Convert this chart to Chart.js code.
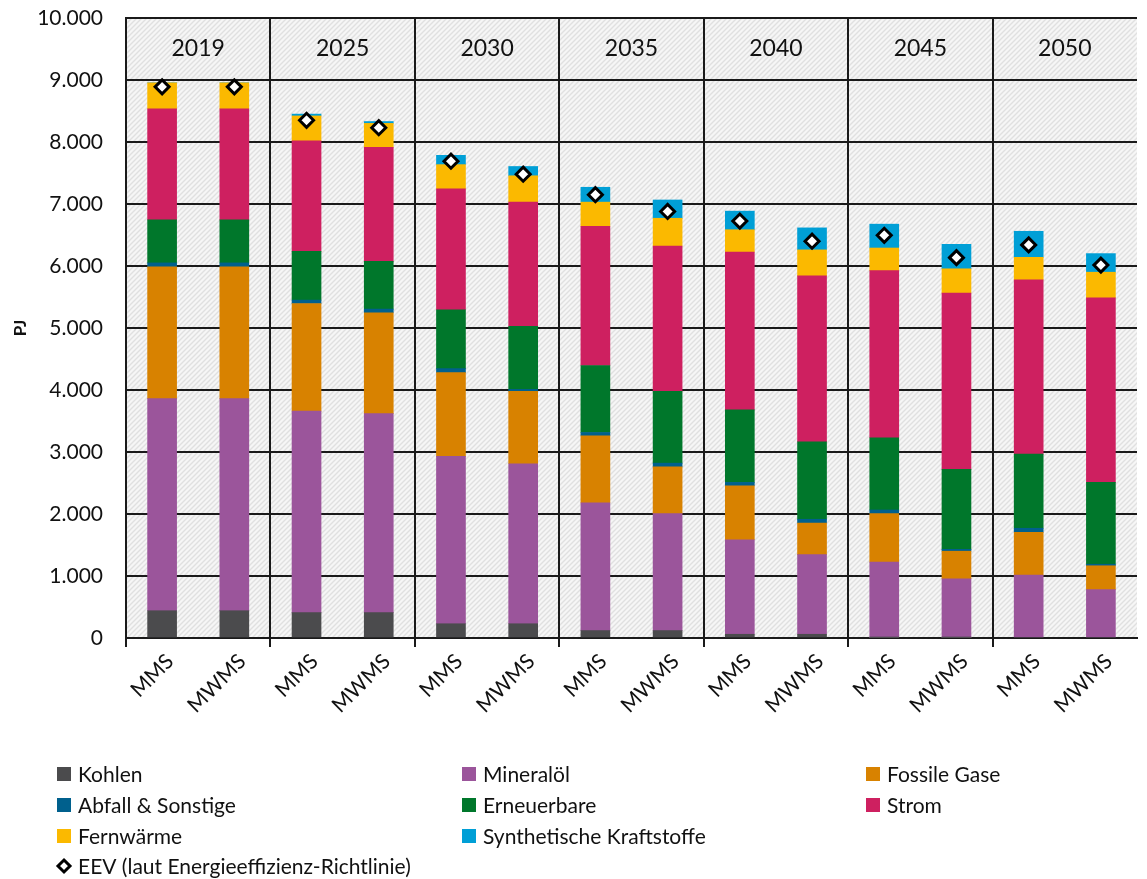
<!DOCTYPE html>
<html>
<head>
<meta charset="utf-8">
<title>Endenergieverbrauch</title>
<script src="https://cdn.jsdelivr.net/npm/chart.js@4/dist/chart.umd.min.js"></script>
<style>
  html, body { margin: 0; padding: 0; background: #fff; }
  #wrap { width: 1147px; height: 879px; position: relative; }
</style>
</head>
<body>
<div id="wrap"><canvas id="chart"></canvas></div>
<script>
var years = ["2019", "2025", "2030", "2035", "2040", "2045", "2050"];
var scenarios = ["MMS", "MWMS"];

var kohlen      = [440, 440, 410, 410, 230, 230, 120, 120, 60, 60, 5, 5, 0, 0];
var mineraloel  = [3420, 3420, 3250, 3210, 2700, 2580, 2060, 1885, 1525, 1285, 1220, 950, 1015, 780];
var fossileGase = [2125, 2125, 1735, 1625, 1350, 1170, 1080, 755, 870, 510, 780, 445, 690, 385];
var abfall      = [65, 65, 55, 60, 65, 30, 55, 60, 55, 60, 60, 30, 65, 25];
var erneuerbare = [695, 695, 785, 770, 950, 1015, 1080, 1160, 1170, 1250, 1165, 1290, 1195, 1320];
var strom       = [1790, 1790, 1785, 1840, 1950, 2005, 2245, 2340, 2545, 2675, 2695, 2845, 2810, 2975];
var fernwaerme  = [420, 420, 400, 385, 390, 425, 390, 450, 360, 420, 365, 390, 365, 415];
var synth       = [0, 0, 30, 30, 150, 150, 240, 295, 300, 355, 385, 395, 420, 300];
var eev         = [8890, 8890, 8350, 8230, 7690, 7480, 7150, 6880, 6725, 6400, 6495, 6135, 6340, 6015];

var yTicks = [0, 1000, 2000, 3000, 4000, 5000, 6000, 7000, 8000, 9000, 10000];

var FONT = 'Lato, "Open Sans", "Noto Sans", sans-serif';

var labels = [];
years.forEach(function () {
  scenarios.forEach(function (s) { labels.push(s); });
});

function bar(label, data, color) {
  return {
    type: "bar",
    label: label,
    data: data,
    backgroundColor: color,
    borderWidth: 0,
    stack: "eev-sum",
    barThickness: 29,
    order: 1
  };
}

// diagonal hatch for the plot background
function hatch() {
  var c = document.createElement("canvas");
  c.width = 5; c.height = 5;
  var x = c.getContext("2d");
  x.fillStyle = "#f6f6f6";
  x.fillRect(0, 0, 5, 5);
  x.strokeStyle = "#e0e0e0";
  x.lineWidth = 1.4;
  x.beginPath();
  x.moveTo(-1, 6); x.lineTo(6, -1);
  x.moveTo(-4, 4); x.lineTo(4, -4);
  x.moveTo(1, 9); x.lineTo(9, 1);
  x.stroke();
  return c;
}

var bgPlugin = {
  id: "hatchBg",
  beforeDraw: function (chart) {
    var a = chart.chartArea, ctx = chart.ctx;
    ctx.save();
    ctx.fillStyle = ctx.createPattern(hatch(), "repeat");
    ctx.fillRect(a.left, a.top, a.right - a.left, a.bottom - a.top);
    ctx.restore();
  }
};

var yearPlugin = {
  id: "yearHeads",
  afterDraw: function (chart) {
    var xs = chart.scales.x, ys = chart.scales.y, ctx = chart.ctx;
    ctx.save();
    ctx.font = "23px " + FONT;
    ctx.fillStyle = "#111";
    ctx.textAlign = "center";
    ctx.textBaseline = "middle";
    years.forEach(function (y, i) {
      var cx = (xs.getPixelForValue(2 * i) + xs.getPixelForValue(2 * i + 1)) / 2;
      ctx.fillText(y, cx, ys.getPixelForValue(9500));
    });
    ctx.restore();
  }
};

var legendPlugin = {
  id: "gridLegend",
  afterDraw: function (chart) {
    var ctx = chart.ctx;
    var colX = [57, 462, 866];
    var rowY = [774, 805, 836, 866];
    ctx.save();
    ctx.font = "21px " + FONT;
    ctx.fillStyle = "#111";
    ctx.textBaseline = "middle";
    var n = 0;
    chart.data.datasets.forEach(function (ds) {
      var col, row;
      if (ds.type === "line") { col = 0; row = Math.ceil(n / 3); }
      else { col = n % 3; row = Math.floor(n / 3); n++; }
      var x = colX[col], y = rowY[row];
      if (ds.type === "line") {
        ctx.beginPath();
        ctx.moveTo(x + 7, y - 6); ctx.lineTo(x + 13, y); ctx.lineTo(x + 7, y + 6); ctx.lineTo(x + 1, y);
        ctx.closePath();
        ctx.fillStyle = "#fff"; ctx.fill();
        ctx.lineWidth = 3; ctx.strokeStyle = "#000"; ctx.stroke();
      } else {
        ctx.fillStyle = ds.backgroundColor;
        ctx.fillRect(x, y - 7, 14, 14);
      }
      ctx.fillStyle = "#111";
      ctx.fillText(ds.label, x + 21, y + 1);
    });
    ctx.restore();
  }
};

new Chart(document.getElementById("chart"), {
  data: {
    labels: labels,
    datasets: [
      bar("Kohlen", kohlen, "#4b4b4d"),
      bar("Mineralöl", mineraloel, "#9b559b"),
      bar("Fossile Gase", fossileGase, "#d88200"),
      bar("Abfall & Sonstige", abfall, "#00608d"),
      bar("Erneuerbare", erneuerbare, "#00772b"),
      bar("Strom", strom, "#ce2060"),
      bar("Fernwärme", fernwaerme, "#fbb900"),
      bar("Synthetische Kraftstoffe", synth, "#009fd6"),
      {
        type: "line",
        label: "EEV (laut Energieeffizienz-Richtlinie)",
        data: eev,
        stack: "eev",
        showLine: false,
        pointStyle: "rectRot",
        pointRadius: 7,
        pointBackgroundColor: "#fff",
        pointBorderColor: "#000",
        pointBorderWidth: 3,
        order: 0
      }
    ]
  },
  options: {
    responsive: true,
    maintainAspectRatio: false,
    animation: false,
    layout: { padding: { top: 18, right: 1, left: 0, bottom: 141 } },
    plugins: { legend: { display: false }, tooltip: { enabled: false } },
    scales: {
      x: {
        stacked: true,
        afterFit: function (s) {
          s.height = 100;
          s.paddingLeft = 0; s.paddingRight = 0; s.paddingTop = 0; s.paddingBottom = 0;
        },
        grid: {
          offset: true,
          lineWidth: 2,
          tickLength: 9,
          color: function (c) { return c.index % 2 === 0 ? "#1a1a1a" : "rgba(0,0,0,0)"; }
        },
        border: { display: true, color: "#1a1a1a", width: 2 },
        ticks: {
          autoSkip: false,
          minRotation: 45,
          maxRotation: 45,
          padding: 2,
          labelOffset: 8,
          color: "#111",
          font: { family: FONT, size: 21 }
        }
      },
      y: {
        stacked: true,
        min: 0,
        max: 10000,
        afterFit: function (s) {
          s.width = 126;
          s.paddingTop = 0; s.paddingBottom = 0;
        },
        afterBuildTicks: function (s) {
          s.ticks = yTicks.map(function (v) { return { value: v }; });
        },
        grid: { lineWidth: 2, color: "#1a1a1a", drawTicks: false },
        border: { display: true, color: "#1a1a1a", width: 2 },
        ticks: {
          padding: 23,
          color: "#111",
          font: { family: FONT, size: 21 },
          callback: function (v) {
            return String(v).replace(/\B(?=(\d{3})+(?!\d))/g, ".");
          }
        },
        title: {
          display: true,
          text: "PJ",
          color: "#111",
          padding: { top: 10, bottom: 0 },
          font: { family: FONT, size: 17, weight: "bold" }
        }
      }
    }
  },
  plugins: [bgPlugin, yearPlugin, legendPlugin]
});
</script>
</body>
</html>
